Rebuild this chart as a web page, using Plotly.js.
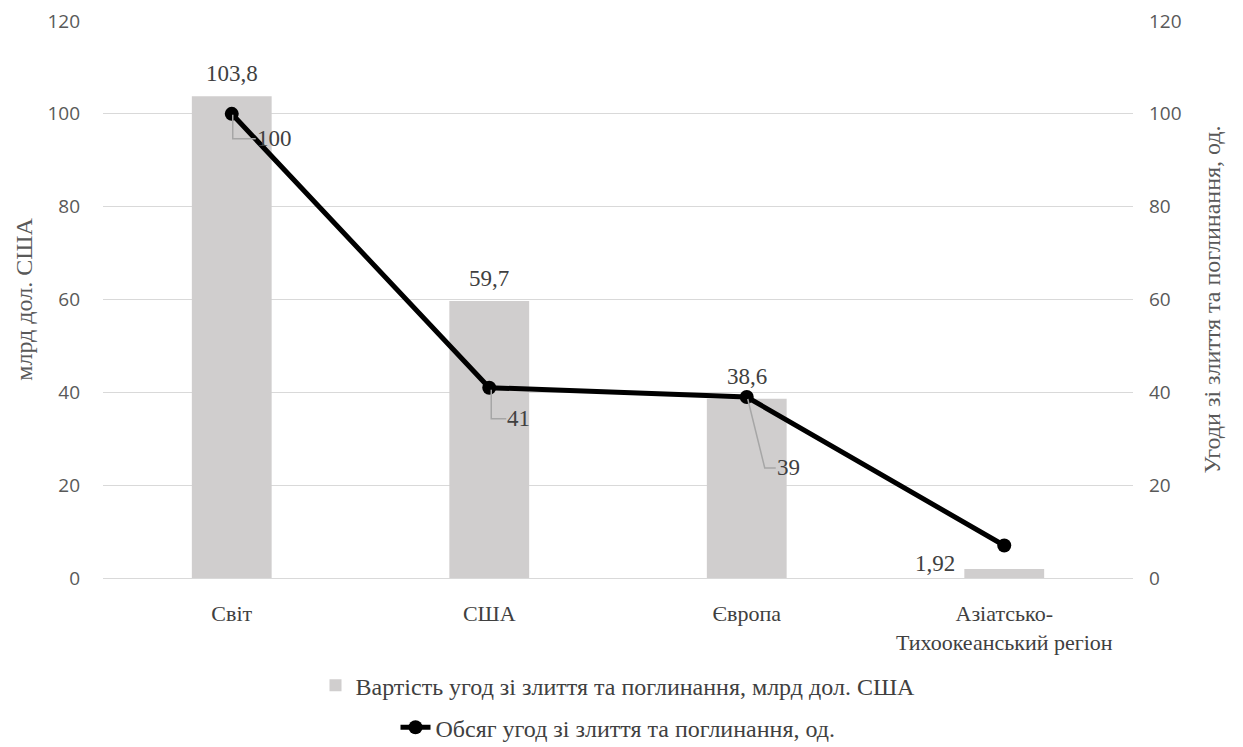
<!DOCTYPE html>
<html>
<head>
<meta charset="utf-8">
<script src="https://cdn.plot.ly/plotly-3.0.1.min.js"></script>
<style>
  html, body { margin: 0; padding: 0; background: #fff; }
  #chart { width: 1243px; height: 747px; }
</style>
</head>
<body>
<div id="chart"></div>
<script>
// Regions
const categories = ['Світ', 'США', 'Європа', 'Азіатсько-<br>Тихоокеанський регіон'];
// Value of M&A deals, bn USD (left axis)
const dealValue = [103.8, 59.7, 38.6, 1.92];
// Number of M&A deals, units (right axis)
const dealCount = [100, 41, 39, 7];

const barName = 'Вартість угод зі злиття та поглинання, млрд дол. США';
const lineName = 'Обсяг угод зі злиття та поглинання, од.';
const leftTitle = 'млрд дол. США';
const rightTitle = 'Угоди зі злиття та поглинання, од.';
const tickVals = [0, 20, 40, 60, 80, 100, 120];

const serif = 'Liberation Serif';
const sans = 'Open Sans';
const fmt = v => String(v).replace('.', ',');

const barTrace = {
  type: 'bar',
  x: categories,
  y: dealValue,
  name: barName,
  marker: { color: '#d0cece' },
  width: 0.31,
  hoverinfo: 'skip',
  legend: 'legend'
};

const lineTrace = {
  type: 'scatter',
  mode: 'lines+markers',
  x: categories,
  y: dealCount,
  yaxis: 'y2',
  name: lineName,
  line: { color: '#000000', width: 5 },
  marker: { color: '#000000', size: 14 },
  hoverinfo: 'skip',
  legend: 'legend2'
};

// Labels for the bars: above the bar, the last one to its left
const annotations = [];
const shapes = [];
dealValue.forEach((v, i) => {
  const side = i === dealValue.length - 1;
  annotations.push({
    x: i, y: v, xref: 'x', yref: 'y',
    text: fmt(v), showarrow: false,
    xanchor: side ? 'right' : 'center',
    yanchor: side ? 'middle' : 'bottom',
    xshift: side ? -47 : 0,
    yshift: side ? 6 : 8,
    font: { family: serif, size: 23, color: '#404040' }
  });
});

// Labels for the line points with elbow leader lines (offsets in pixels)
const leaders = [
  [[1, -1], [1, -25], [24, -25]],
  [[2, -2], [2, -31], [17, -31]],
  [[1, -2], [18, -71], [29, -71]]
];
leaders.forEach((pts, i) => {
  const path = pts.map((p, k) => (k ? 'L' : 'M') + p[0] + ',' + p[1]).join(' ');
  shapes.push({
    type: 'path', xref: 'x', yref: 'y2',
    xsizemode: 'pixel', ysizemode: 'pixel',
    xanchor: i, yanchor: dealCount[i],
    path: path,
    line: { color: '#a6a6a6', width: 1.5 },
    layer: 'above'
  });
  const end = pts[pts.length - 1];
  annotations.push({
    x: i, y: dealCount[i], xref: 'x', yref: 'y2',
    text: fmt(dealCount[i]), showarrow: false,
    xanchor: 'left', yanchor: 'middle',
    xshift: end[0] - 1, yshift: end[1],
    font: { family: serif, size: 23, color: '#404040' }
  });
});

const layout = {
  width: 1243, height: 747,
  font: { family: serif },
  margin: { l: 103, r: 110, t: 21, b: 169, autoexpand: false },
  paper_bgcolor: '#ffffff',
  plot_bgcolor: '#ffffff',
  separators: ', ',
  showlegend: true,
  xaxis: {
    type: 'category',
    range: [-0.5, 3.5],
    showgrid: false, zeroline: false, showline: false, ticks: '',
    ticklabelstandoff: 20,
    tickfont: { family: serif, size: 22, color: '#404040' }
  },
  yaxis: {
    range: [0, 120],
    tickvals: tickVals,
    showgrid: true, gridcolor: '#d9d9d9', gridwidth: 1,
    zeroline: true, zerolinecolor: '#d9d9d9', zerolinewidth: 1,
    showline: false, ticks: '',
    ticklabelstandoff: 22,
    tickfont: { family: sans, size: 19, color: '#595959' },
    title: { text: leftTitle, standoff: 8, font: { family: serif, size: 24, color: '#595959' } }
  },
  yaxis2: {
    overlaying: 'y', side: 'right',
    range: [0, 120],
    tickvals: tickVals,
    showgrid: false, zeroline: false, showline: false, ticks: '',
    ticklabelstandoff: 15,
    tickfont: { family: sans, size: 19, color: '#595959' },
    title: { text: rightTitle, standoff: 22, font: { family: serif, size: 24, color: '#595959' } }
  },
  legend: {
    x: 0.5, xanchor: 'center', yref: 'container', y: 0.082, yanchor: 'middle',
    orientation: 'h',
    font: { family: serif, size: 24, color: '#404040' },
    bgcolor: 'rgba(0,0,0,0)'
  },
  legend2: {
    x: 0.5, xanchor: 'center', yref: 'container', y: 0.026, yanchor: 'middle',
    orientation: 'h',
    font: { family: serif, size: 24, color: '#404040' },
    bgcolor: 'rgba(0,0,0,0)'
  },
  annotations: annotations,
  shapes: shapes
};

Plotly.newPlot('chart', [barTrace, lineTrace], layout, { displayModeBar: false, staticPlot: true });
</script>
</body>
</html>
